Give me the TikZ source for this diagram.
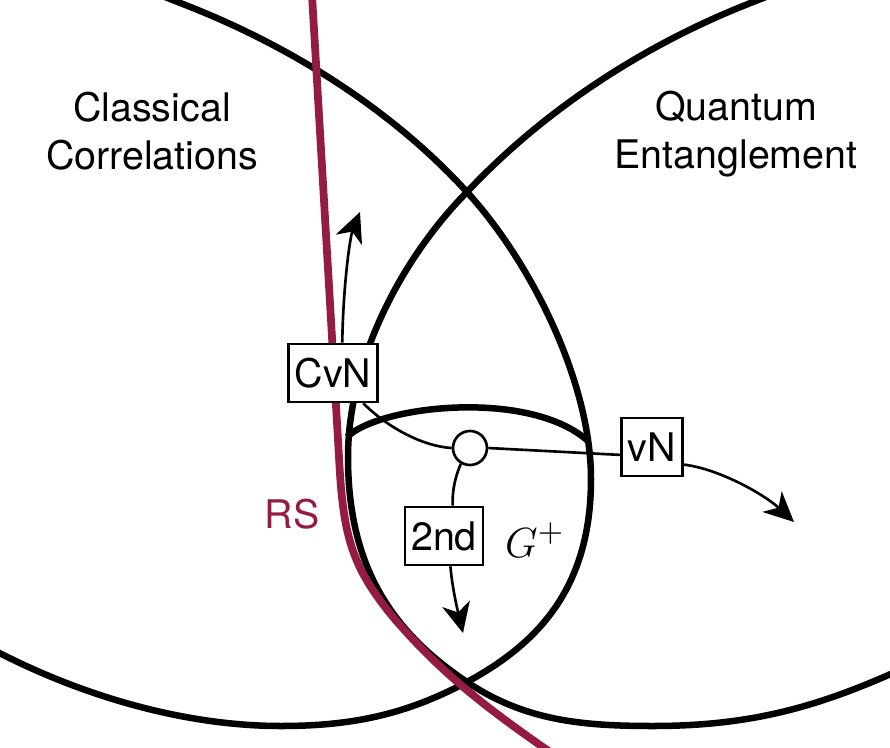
\documentclass[tikz,border=0pt]{standalone}
\usepackage{fontspec}
\setmainfont{TeX Gyre Heros}
\usepackage{xcolor}
\usepackage{tikz}
\usetikzlibrary{arrows.meta}
\definecolor{rsred}{RGB}{148,28,66}

\begin{document}
\begin{tikzpicture}[x=0.01cm, y=0.01cm, >={Stealth[length=8.5pt,width=8pt,inset=2.5pt]},
    region/.style={line width=1.85pt},
    tag/.style={draw, fill=white, line width=0.75pt, inner xsep=1.8pt, inner ysep=0pt, minimum height=0.58cm, font=\fontsize{11.2}{13.7}\selectfont},
    flow/.style={line width=0.75pt},
    title/.style={align=center, font=\fontsize{11.2}{13.7}\selectfont}]
    \useasboundingbox (0,0) rectangle (890,747);
    \clip (0,0) rectangle (890,747);
    % classical correlations
    \draw[region] (150,756) -- (193,739) .. controls (295,698) and (393,636) .. (467,555)
        .. controls (531,485) and (591,365) .. (591,268)
        .. controls (591,158) and (537,103) .. (467,65)
        .. controls (405,32) and (351,21) .. (281,21)
        .. controls (181,21) and (76,53) .. (-12,100);
    % quantum entanglement
    \draw[region] (786,758) -- (743,741) .. controls (641,700) and (543,636) .. (467,555)
        .. controls (400,487) and (348,385) .. (348,290)
        .. controls (348,180) and (392,115) .. (467,65)
        .. controls (525,26) and (583,21) .. (653,21)
        .. controls (753,21) and (820,41) .. (902,78);
    \draw[region] (347,310) .. controls (380,342) and (530,358) .. (588,306);
    % RS
    \draw[rsred, line width=2.2pt] (312,752) -- (339,290) .. controls (343,210) and (352,180) .. (393,130)
        .. controls (440,75) and (485,40) .. (550,-5);

    \node[title] (classical) at (152,616) {Classical\\Correlations};
    \node[title] (quantum) at (736,613) {Quantum\\Entanglement};
    \node[text=rsred, font=\fontsize{11.2}{13.7}\selectfont] (rs) at (292,233) {RS};
    \node[font=\fontsize{12.5}{15}\selectfont] (gplus) at (535,207) {$G^+$};

    \node[tag] (cvn) at (333,374) {CvN};
    \node[tag] (vn) at (652,300) {vN};
    \node[tag] (snd) at (444,211) {2nd};
    \node[draw, circle, fill=white, minimum size=0.34cm, inner sep=0pt, line width=0.75pt] (circ) at (470,299) {};

    \coordinate (cvntip) at (360,535);
    \coordinate (vntip) at (794,225);
    \coordinate (sndtip) at (463,114);

    \draw[flow] (circ.west) .. controls (420,301) and (385,322) .. (cvn.-45);
    \draw[flow,->] (cvn.73) .. controls (343,460) and (350,510) .. (cvntip);
    \draw[flow] (circ.east) -- (vn.194);
    \draw[flow,->] (vn.-29) .. controls (720,278) and (765,252) .. (vntip);
    \draw[flow] (circ.-120) .. controls (455,270) and (452,255) .. (snd.74);
    \draw[flow,->] (snd.-78) .. controls (452,160) and (458,135) .. (sndtip);
\end{tikzpicture}
\end{document}
